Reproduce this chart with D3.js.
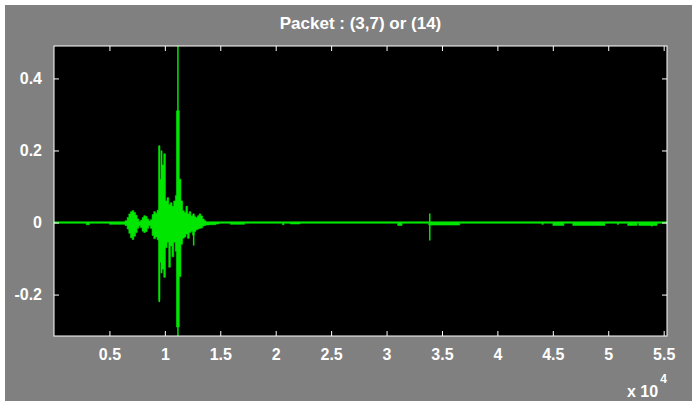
<!DOCTYPE html>
<html>
<head>
<meta charset="utf-8">
<script src="https://cdn.jsdelivr.net/npm/d3@7.9.0/dist/d3.min.js"></script>
<style>
  body { margin: 0; background: #fff; }
  text { font-family: "Liberation Sans Narrow", "Arial Narrow", "Liberation Sans", Arial, sans-serif; font-weight: bold; fill: #fff; }
</style>
</head>
<body>
<svg id="chart" width="696" height="405"></svg>
<script>
// signal envelope (sample index, max, min); each value holds until the next x
const sigX = [0, 2900, 3200, 5000, 6400, 6600, 6750, 6900, 7050, 7200, 7350, 7500, 7650, 7800, 7950, 8100, 8250, 8400, 8550, 8700, 8850, 9000, 9150, 9300, 9450, 9550, 9650, 9750, 9900, 10050, 10200, 10350, 10500, 10650, 10800, 10950, 11050, 11300, 11450, 11600, 11750, 11900, 12050, 12200, 12350, 12500, 12650, 12800, 12950, 13100, 13250, 13400, 13550, 13700, 14000, 14600, 14900, 15900, 17200, 20600, 20750, 21300, 22200, 31000, 31400, 33800, 36600, 44000, 44150, 45000, 46000, 46800, 49700, 50800, 50950, 51750, 52600, 52750, 53850, 54000, 54400, 55300];
const sigHi = [0.002, 0.002, 0.002, 0.002, 0.005, 0.014, 0.024, 0.030, 0.033, 0.028, 0.020, 0.010, 0.003, 0.006, 0.014, 0.019, 0.017, 0.010, 0.004, 0.008, 0.022, 0.030, 0.026, 0.034, 0.213, 0.120, 0.199, 0.160, 0.191, 0.060, 0.069, 0.050, 0.055, 0.045, 0.060, 0.075, 0.310, 0.120, 0.060, 0.033, 0.028, 0.045, 0.024, 0.030, 0.018, 0.022, 0.016, 0.014, 0.019, 0.024, 0.018, 0.010, 0.005, 0.002, 0.002, 0.002, 0.002, 0.002, 0.002, 0.002, 0.002, 0.002, 0.002, 0.002, 0.002, 0.002, 0.002, 0.002, 0.002, 0.002, 0.002, 0.002, 0.002, 0.002, 0.002, 0.002, 0.002, 0.002, 0.002, 0.002, 0.002, 0.002];
const sigLo = [-0.002, -0.006, -0.002, -0.005, -0.008, -0.018, -0.030, -0.042, -0.047, -0.038, -0.028, -0.016, -0.009, -0.014, -0.024, -0.028, -0.025, -0.016, -0.008, -0.016, -0.036, -0.045, -0.040, -0.048, -0.216, -0.110, -0.140, -0.130, -0.152, -0.070, -0.055, -0.124, -0.065, -0.095, -0.055, -0.080, -0.290, -0.150, -0.060, -0.044, -0.040, -0.032, -0.044, -0.028, -0.024, -0.035, -0.025, -0.020, -0.018, -0.016, -0.015, -0.010, -0.008, -0.007, -0.006, -0.004, -0.002, -0.005, -0.002, -0.006, -0.002, -0.004, -0.002, -0.008, -0.002, -0.007, -0.002, -0.005, -0.002, -0.008, -0.002, -0.008, -0.002, -0.005, -0.002, -0.008, -0.002, -0.008, -0.010, -0.008, -0.002, -0.002];

// single-sample spikes
const spikeX = [9500, 11180, 12600, 33900];
const spikeHi = [0.213, 0.49, 0.025, 0.025];
const spikeLo = [-0.221, -0.315, -0.064, -0.05];

const xTicks = [5000, 10000, 15000, 20000, 25000, 30000, 35000, 40000, 45000, 50000, 55000];
const yTicks = [-0.2, 0, 0.2, 0.4];
const title = 'Packet : (3,7) or (14)';

const svg = d3.select('#chart');
const mLeft = 54, mRight = 667, mTop = 46, mBottom = 336;

svg.append('rect').attr('x', 5).attr('y', 5).attr('width', 687).attr('height', 396).attr('fill', '#808080');
svg.append('rect').attr('x', mLeft).attr('y', mTop).attr('width', mRight - mLeft).attr('height', mBottom - mTop).attr('fill', '#000');

const x = d3.scaleLinear().domain([0, 55300]).range([mLeft, mRight]);
const y = d3.scaleLinear().domain([-0.315, 0.49]).range([mBottom, mTop]);

svg.append('clipPath').attr('id', 'clip')
  .append('rect').attr('x', mLeft).attr('y', mTop).attr('width', mRight - mLeft).attr('height', mBottom - mTop);

const sig = sigX.map((d, i) => ({ x: d, hi: sigHi[i], lo: sigLo[i] }));
const area = d3.area()
  .x(d => x(d.x))
  .y0(d => y(d.lo))
  .y1(d => y(d.hi))
  .curve(d3.curveStepAfter);

const plot = svg.append('g').attr('clip-path', 'url(#clip)');
plot.append('path').datum(sig).attr('d', area)
  .attr('fill', '#00e600').attr('stroke', '#00e600').attr('stroke-width', 0.6);

plot.selectAll('line.spike').data(spikeX).join('line')
  .attr('class', 'spike')
  .attr('x1', d => x(d)).attr('x2', d => x(d))
  .attr('y1', (d, i) => y(spikeHi[i])).attr('y2', (d, i) => y(spikeLo[i]))
  .attr('stroke', '#00e600').attr('stroke-width', 1.5);

// axes with inward ticks on all four sides, plain hyphen for negatives like matlab
const fmtX = d => String(d / 10000);
const fmtY = d => String(d);
svg.append('g').attr('transform', `translate(0,${mBottom})`)
  .call(d3.axisBottom(x).tickValues(xTicks).tickSizeInner(-5).tickSizeOuter(0).tickPadding(13).tickFormat(fmtX));
svg.append('g').attr('transform', `translate(0,${mTop})`)
  .call(d3.axisTop(x).tickValues(xTicks).tickSizeInner(-5).tickSizeOuter(0).tickFormat(''));
svg.append('g').attr('transform', `translate(${mLeft},0)`)
  .call(d3.axisLeft(y).tickValues(yTicks).tickSizeInner(-5).tickSizeOuter(0).tickPadding(12).tickFormat(fmtY));
svg.append('g').attr('transform', `translate(${mRight},0)`)
  .call(d3.axisRight(y).tickValues(yTicks).tickSizeInner(-5).tickSizeOuter(0).tickFormat(''));

svg.selectAll('.domain').remove();
svg.selectAll('.tick line').attr('stroke', '#fff');
svg.selectAll('.tick text').attr('fill', '#fff').attr('font-size', 16)
  .attr('font-family', null);

svg.append('rect').attr('x', mLeft).attr('y', mTop).attr('width', mRight - mLeft).attr('height', mBottom - mTop)
  .attr('fill', 'none').attr('stroke', '#fff').attr('stroke-width', 1);

svg.append('text').attr('x', (mLeft + mRight) / 2).attr('y', 29)
  .attr('text-anchor', 'middle').attr('font-size', 17).text(title);

const mult = svg.append('text').attr('x', 627).attr('y', 397).attr('font-size', 16);
mult.append('tspan').text('x 10');
mult.append('tspan').attr('dy', -14).attr('dx', 2).attr('font-size', 12).text('4');
</script>
</body>
</html>
